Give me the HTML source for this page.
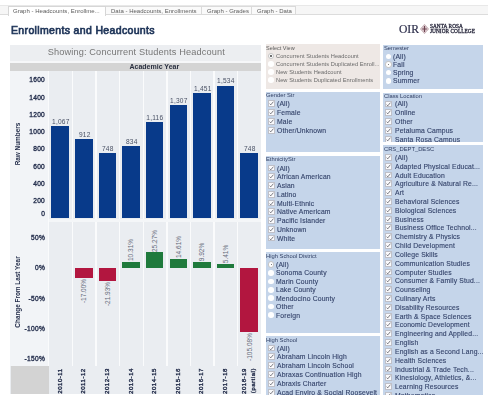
<!DOCTYPE html>
<html><head><meta charset="utf-8"><style>
html,body{margin:0;padding:0;background:#fff;width:500px;height:400px;overflow:hidden}
body div{position:absolute}
.t{font-family:"Liberation Sans", sans-serif;white-space:nowrap;line-height:1}
.t{will-change:transform}
.rot{transform:translate(-50%,-50%) rotate(-90deg);transform-origin:center center;will-change:auto}
</style></head><body>
<div style="left:0;top:5px;width:488px;height:9.6px;background:#f6f6f6;border-top:1px solid #e8e8e8;border-bottom:1px solid #dcdcdc;box-sizing:border-box"></div><div style="left:8px;top:5.6px;width:98px;height:10px;background:#ffffff;border:1px solid #d6d6d6;border-bottom:none;box-sizing:border-box"></div><div class="t" style="left:13px;top:8.0px;font-size:6px;color:#5c5c5c;font-weight:normal;letter-spacing:0.02px">Graph - Headcounts, Enrollme...</div><div style="left:106px;top:5.6px;width:96px;height:9px;background:#fafafa;border:1px solid #dadada;border-left:none;box-sizing:border-box"></div><div class="t" style="left:111px;top:8.0px;font-size:6px;color:#5c5c5c;font-weight:normal;letter-spacing:0.02px">Data - Headcounts, Enrollments</div><div style="left:202px;top:5.6px;width:50px;height:9px;background:#fafafa;border:1px solid #dadada;border-left:none;box-sizing:border-box"></div><div class="t" style="left:207px;top:8.0px;font-size:6px;color:#5c5c5c;font-weight:normal;letter-spacing:0.02px">Graph - Grades</div><div style="left:252px;top:5.6px;width:44px;height:9px;background:#fafafa;border:1px solid #dadada;border-left:none;box-sizing:border-box"></div><div class="t" style="left:257px;top:8.0px;font-size:6px;color:#5c5c5c;font-weight:normal;letter-spacing:0.02px">Graph - Data</div><div class="t" style="left:10.6px;top:25.2px;font-size:10.5px;color:#1f3559;font-weight:normal;letter-spacing:0.35px;-webkit-text-stroke:0.7px #1f3559">Enrollments and Headcounts</div><div class="t" style="left:398.5px;top:23.9px;font-family:'Liberation Serif',serif;font-size:11.6px;color:#2b2d4a;-webkit-text-stroke:0.2px #2b2d4a">OIR</div><svg style="position:absolute;left:419.5px;top:24px" width="9" height="10" viewBox="0 0 9 10">
<path d="M4.5 0.3 Q6.5 2.5 8.7 5 Q6.5 7.5 4.5 9.7 Q2.5 7.5 0.3 5 Q2.5 2.5 4.5 0.3 Z" fill="#d8c6cb" stroke="#b0949b" stroke-width="0.5"/>
<path d="M4.5 2 V8 M2.2 5 H6.8" stroke="#6e4450" stroke-width="1.1"/></svg><div class="t" style="left:429.6px;top:23.8px;font-family:'Liberation Serif',serif;font-size:5.3px;color:#2e2e42;line-height:4.7px;letter-spacing:0.05px;-webkit-text-stroke:0.3px #2e2e42">SANTA ROSA<br>JUNIOR COLLEGE</div><div style="left:10.2px;top:44.5px;width:250.60000000000002px;height:349.9px;background:#eaedf1;"></div><div style="left:10.2px;top:44.5px;width:250.60000000000002px;height:16.9px;background:#eceef1;"></div><div style="left:10.2px;top:61.4px;width:250.60000000000002px;height:1.5px;background:#f6f7f9;"></div><div style="left:10.2px;top:70.6px;width:38.099999999999994px;height:295.4px;background:#f2f4f7;"></div><div class="t" style="left:11.1px;top:48.4px;font-size:9.2px;color:#767676;font-weight:normal;width:250.60000000000002px;text-align:center;letter-spacing:0.15px">Showing: Concurrent Students Headcount</div><div style="left:10.2px;top:62.9px;width:250.60000000000002px;height:7.7px;background:#d4d4d4;"></div><div class="t" style="left:47.8px;top:63.1px;font-size:7px;color:#2a3040;font-weight:bold;width:212.60000000000002px;text-align:center">Academic Year</div><div style="left:48.099999999999994px;top:70.6px;width:1.4px;height:295.4px;background:#fafbfc;"></div><div style="left:71.72px;top:70.6px;width:1.4px;height:295.4px;background:#fafbfc;"></div><div style="left:95.33999999999999px;top:70.6px;width:1.4px;height:295.4px;background:#fafbfc;"></div><div style="left:118.96px;top:70.6px;width:1.4px;height:295.4px;background:#fafbfc;"></div><div style="left:142.58px;top:70.6px;width:1.4px;height:295.4px;background:#fafbfc;"></div><div style="left:166.20000000000002px;top:70.6px;width:1.4px;height:295.4px;background:#fafbfc;"></div><div style="left:189.82px;top:70.6px;width:1.4px;height:295.4px;background:#fafbfc;"></div><div style="left:213.44px;top:70.6px;width:1.4px;height:295.4px;background:#fafbfc;"></div><div style="left:237.06px;top:70.6px;width:1.4px;height:295.4px;background:#fafbfc;"></div><div style="left:51.4px;top:125.97125000000001px;width:17.5px;height:92.02874999999999px;background:#083a8a;"></div><div class="t" style="left:49.0px;top:118.77125000000001px;font-size:6.6px;color:#4a5266;font-weight:normal;width:23.62px;text-align:center;letter-spacing:0.2px">1,067</div><div style="left:75.02px;top:139.34px;width:17.5px;height:78.66px;background:#083a8a;"></div><div class="t" style="left:72.62px;top:132.14000000000001px;font-size:6.6px;color:#4a5266;font-weight:normal;width:23.62px;text-align:center;letter-spacing:0.2px">912</div><div style="left:98.63999999999999px;top:153.485px;width:17.5px;height:64.515px;background:#083a8a;"></div><div class="t" style="left:96.24px;top:146.28500000000003px;font-size:6.6px;color:#4a5266;font-weight:normal;width:23.62px;text-align:center;letter-spacing:0.2px">748</div><div style="left:122.25999999999999px;top:146.0675px;width:17.5px;height:71.93249999999999px;background:#083a8a;"></div><div class="t" style="left:119.86px;top:138.8675px;font-size:6.6px;color:#4a5266;font-weight:normal;width:23.62px;text-align:center;letter-spacing:0.2px">834</div><div style="left:145.88px;top:121.745px;width:17.5px;height:96.255px;background:#083a8a;"></div><div class="t" style="left:143.48px;top:114.545px;font-size:6.6px;color:#4a5266;font-weight:normal;width:23.62px;text-align:center;letter-spacing:0.2px">1,116</div><div style="left:169.5px;top:105.27125000000001px;width:17.5px;height:112.72874999999999px;background:#083a8a;"></div><div class="t" style="left:167.1px;top:98.07125px;font-size:6.6px;color:#4a5266;font-weight:normal;width:23.62px;text-align:center;letter-spacing:0.2px">1,307</div><div style="left:193.11999999999998px;top:92.85125000000001px;width:17.5px;height:125.14874999999999px;background:#083a8a;"></div><div class="t" style="left:190.71999999999997px;top:85.65125px;font-size:6.6px;color:#4a5266;font-weight:normal;width:23.62px;text-align:center;letter-spacing:0.2px">1,451</div><div style="left:216.73999999999998px;top:85.69250000000002px;width:17.5px;height:132.30749999999998px;background:#083a8a;"></div><div class="t" style="left:214.33999999999997px;top:78.49250000000002px;font-size:6.6px;color:#4a5266;font-weight:normal;width:23.62px;text-align:center;letter-spacing:0.2px">1,534</div><div style="left:240.35999999999999px;top:153.485px;width:17.5px;height:64.515px;background:#083a8a;"></div><div class="t" style="left:237.95999999999998px;top:146.28500000000003px;font-size:6.6px;color:#4a5266;font-weight:normal;width:23.62px;text-align:center;letter-spacing:0.2px">748</div><div style="left:48.8px;top:219px;width:212.0px;height:3.4px;background:#f4f6f8;"></div><div class="t" style="left:10.2px;top:77.3px;font-size:6.6px;color:#27314f;font-weight:normal;width:35.099999999999994px;text-align:right;letter-spacing:0.3px;-webkit-text-stroke:0.35px #27314f">1600</div><div class="t" style="left:10.2px;top:94.6px;font-size:6.6px;color:#27314f;font-weight:normal;width:35.099999999999994px;text-align:right;letter-spacing:0.3px;-webkit-text-stroke:0.35px #27314f">1400</div><div class="t" style="left:10.2px;top:111.8px;font-size:6.6px;color:#27314f;font-weight:normal;width:35.099999999999994px;text-align:right;letter-spacing:0.3px;-webkit-text-stroke:0.35px #27314f">1200</div><div class="t" style="left:10.2px;top:129.1px;font-size:6.6px;color:#27314f;font-weight:normal;width:35.099999999999994px;text-align:right;letter-spacing:0.3px;-webkit-text-stroke:0.35px #27314f">1000</div><div class="t" style="left:10.2px;top:146.29999999999998px;font-size:6.6px;color:#27314f;font-weight:normal;width:35.099999999999994px;text-align:right;letter-spacing:0.3px;-webkit-text-stroke:0.35px #27314f">800</div><div class="t" style="left:10.2px;top:163.6px;font-size:6.6px;color:#27314f;font-weight:normal;width:35.099999999999994px;text-align:right;letter-spacing:0.3px;-webkit-text-stroke:0.35px #27314f">600</div><div class="t" style="left:10.2px;top:180.79999999999998px;font-size:6.6px;color:#27314f;font-weight:normal;width:35.099999999999994px;text-align:right;letter-spacing:0.3px;-webkit-text-stroke:0.35px #27314f">400</div><div class="t" style="left:10.2px;top:198.1px;font-size:6.6px;color:#27314f;font-weight:normal;width:35.099999999999994px;text-align:right;letter-spacing:0.3px;-webkit-text-stroke:0.35px #27314f">200</div><div class="t" style="left:10.2px;top:211.29999999999998px;font-size:6.6px;color:#27314f;font-weight:normal;width:35.099999999999994px;text-align:right;letter-spacing:0.3px;-webkit-text-stroke:0.35px #27314f">0</div><div class="t rot" style="left:18.2px;top:143.5px;font-size:6.4px;color:#1e2846;font-weight:bold">Raw Numbers</div><div class="t rot" style="left:18.2px;top:292px;font-size:6.4px;color:#1e2846;font-weight:bold">Change From Last Year</div><div style="left:75.02px;top:267.8px;width:17.5px;height:10.37px;background:#b2163f;"></div><div class="t rot" style="left:84.23px;top:291.37px;font-size:6.5px;color:#666c7a">-17.00%</div><div style="left:98.63999999999999px;top:267.8px;width:17.5px;height:13.3773px;background:#b2163f;"></div><div class="t rot" style="left:107.85px;top:294.3773px;font-size:6.5px;color:#666c7a">-21.93%</div><div style="left:122.25999999999999px;top:261.5109px;width:17.5px;height:6.2891px;background:#1f7a3c;"></div><div class="t rot" style="left:131.47px;top:249.9109px;font-size:6.5px;color:#666c7a">10.31%</div><div style="left:145.88px;top:252.3853px;width:17.5px;height:15.4147px;background:#1f7a3c;"></div><div class="t rot" style="left:155.09px;top:240.7853px;font-size:6.5px;color:#666c7a">25.27%</div><div style="left:169.5px;top:258.8879px;width:17.5px;height:8.912099999999999px;background:#1f7a3c;"></div><div class="t rot" style="left:178.71px;top:247.2879px;font-size:6.5px;color:#666c7a">14.61%</div><div style="left:193.11999999999998px;top:261.7488px;width:17.5px;height:6.0512px;background:#1f7a3c;"></div><div class="t rot" style="left:202.32999999999998px;top:251.74880000000002px;font-size:6.5px;color:#666c7a">9.92%</div><div style="left:216.73999999999998px;top:264.4999px;width:17.5px;height:3.3001px;background:#1f7a3c;"></div><div class="t rot" style="left:225.95px;top:254.49990000000003px;font-size:6.5px;color:#666c7a">5.41%</div><div style="left:240.35999999999999px;top:267.8px;width:17.5px;height:64.0988px;background:#b2163f;"></div><div class="t rot" style="left:249.57px;top:346.6988px;font-size:6.5px;color:#666c7a">-105.08%</div><div class="t" style="left:10.2px;top:234.79999999999998px;font-size:6.6px;color:#27314f;font-weight:normal;width:35.099999999999994px;text-align:right;letter-spacing:0.3px;-webkit-text-stroke:0.35px #27314f">50%</div><div class="t" style="left:10.2px;top:265.1px;font-size:6.6px;color:#27314f;font-weight:normal;width:35.099999999999994px;text-align:right;letter-spacing:0.3px;-webkit-text-stroke:0.35px #27314f">0%</div><div class="t" style="left:10.2px;top:295.8px;font-size:6.6px;color:#27314f;font-weight:normal;width:35.099999999999994px;text-align:right;letter-spacing:0.3px;-webkit-text-stroke:0.35px #27314f">-50%</div><div class="t" style="left:10.2px;top:325.6px;font-size:6.6px;color:#27314f;font-weight:normal;width:35.099999999999994px;text-align:right;letter-spacing:0.3px;-webkit-text-stroke:0.35px #27314f">-100%</div><div class="t" style="left:10.2px;top:356.1px;font-size:6.6px;color:#27314f;font-weight:normal;width:35.099999999999994px;text-align:right;letter-spacing:0.3px;-webkit-text-stroke:0.35px #27314f">-150%</div><div style="left:11.2px;top:366.4px;width:37.599999999999994px;height:27.600000000000023px;background:#d3d3d3;"></div><div class="t rot" style="left:59.71px;top:381.3px;font-size:6.1px;color:#1e2846;letter-spacing:0.5px;-webkit-text-stroke:0.35px #1e2846">2010-11</div><div class="t rot" style="left:83.33px;top:381.3px;font-size:6.1px;color:#1e2846;letter-spacing:0.5px;-webkit-text-stroke:0.35px #1e2846">2011-12</div><div class="t rot" style="left:106.94999999999999px;top:381.3px;font-size:6.1px;color:#1e2846;letter-spacing:0.5px;-webkit-text-stroke:0.35px #1e2846">2012-13</div><div class="t rot" style="left:130.57px;top:381.3px;font-size:6.1px;color:#1e2846;letter-spacing:0.5px;-webkit-text-stroke:0.35px #1e2846">2013-14</div><div class="t rot" style="left:154.19px;top:381.3px;font-size:6.1px;color:#1e2846;letter-spacing:0.5px;-webkit-text-stroke:0.35px #1e2846">2014-15</div><div class="t rot" style="left:177.81px;top:381.3px;font-size:6.1px;color:#1e2846;letter-spacing:0.5px;-webkit-text-stroke:0.35px #1e2846">2015-16</div><div class="t rot" style="left:201.42999999999998px;top:381.3px;font-size:6.1px;color:#1e2846;letter-spacing:0.5px;-webkit-text-stroke:0.35px #1e2846">2016-17</div><div class="t rot" style="left:225.04999999999998px;top:381.3px;font-size:6.1px;color:#1e2846;letter-spacing:0.5px;-webkit-text-stroke:0.35px #1e2846">2017-18</div><div class="t rot" style="left:248.87px;top:381.3px;font-size:6.1px;color:#1e2846;line-height:8.8px;text-align:right;letter-spacing:0.5px;-webkit-text-stroke:0.35px #1e2846">2018-19<br>(partial)</div><div style="left:265.5px;top:44.4px;width:114.30000000000001px;height:44.800000000000004px;background:#eee8e5;overflow:hidden"><div class="t" style="left:0.8px;top:1.6000000000000014px;font-size:5.5px;color:#5a5a5a;font-weight:normal;">Select View</div><div style="left:2.3px;top:8.299999999999999px;width:6.2px;height:6.2px;border-radius:50%;background:#fff;border:0.8px solid #c4c4c4;box-sizing:border-box"><div style="left:1.6px;top:1.6px;width:1.4px;height:1.4px;border-radius:50%;background:#555"></div></div><div class="t" style="left:10.4px;top:9.600000000000001px;font-size:5.7px;color:#6a6a6a;font-weight:normal;letter-spacing:0.05px">Concurrent Students Headcount</div><div style="left:2.5999999999999996px;top:16.63px;width:5.6px;height:5.6px;border-radius:50%;background:#ffffff;box-sizing:border-box"></div><div class="t" style="left:10.4px;top:17.6px;font-size:5.7px;color:#6a6a6a;font-weight:normal;letter-spacing:0.05px">Concurrent Students Duplicated Enroll...</div><div style="left:2.5999999999999996px;top:24.659999999999997px;width:5.6px;height:5.6px;border-radius:50%;background:#ffffff;box-sizing:border-box"></div><div class="t" style="left:10.4px;top:25.6px;font-size:5.7px;color:#6a6a6a;font-weight:normal;letter-spacing:0.05px">New Students Headcount</div><div style="left:2.5999999999999996px;top:32.69px;width:5.6px;height:5.6px;border-radius:50%;background:#ffffff;box-sizing:border-box"></div><div class="t" style="left:10.4px;top:33.6px;font-size:5.7px;color:#6a6a6a;font-weight:normal;letter-spacing:0.05px">New Students Duplicated Enrollments</div></div><div style="left:383.3px;top:44.5px;width:99.59999999999997px;height:44.599999999999994px;background:#c5d5ea;overflow:hidden"><div class="t" style="left:0.8px;top:1.5px;font-size:5.8px;color:#2e3d62;font-weight:normal;">Semester</div><div style="left:2.5px;top:9.099999999999998px;width:5.6px;height:5.6px;border-radius:50%;background:#ffffff;box-sizing:border-box"></div><div class="t" style="left:9.8px;top:9.5px;font-size:6.8px;color:#34436a;font-weight:normal;letter-spacing:0.15px;-webkit-text-stroke:0.12px #34436a">(All)</div><div style="left:2.2px;top:16.919999999999995px;width:6.2px;height:6.2px;border-radius:50%;background:#fff;border:0.8px solid #c4c4c4;box-sizing:border-box"><div style="left:1.6px;top:1.6px;width:1.4px;height:1.4px;border-radius:50%;background:#555"></div></div><div class="t" style="left:9.8px;top:17.5px;font-size:6.8px;color:#34436a;font-weight:normal;letter-spacing:0.15px;-webkit-text-stroke:0.12px #34436a">Fall</div><div style="left:2.5px;top:25.339999999999996px;width:5.6px;height:5.6px;border-radius:50%;background:#ffffff;box-sizing:border-box"></div><div class="t" style="left:9.8px;top:25.5px;font-size:6.8px;color:#34436a;font-weight:normal;letter-spacing:0.15px;-webkit-text-stroke:0.12px #34436a">Spring</div><div style="left:2.5px;top:33.46px;width:5.6px;height:5.6px;border-radius:50%;background:#ffffff;box-sizing:border-box"></div><div class="t" style="left:9.8px;top:33.5px;font-size:6.8px;color:#34436a;font-weight:normal;letter-spacing:0.15px;-webkit-text-stroke:0.12px #34436a">Summer</div></div><div style="left:265.5px;top:92.2px;width:114.30000000000001px;height:60.10000000000001px;background:#c5d5ea;overflow:hidden"><div class="t" style="left:0.8px;top:0.7999999999999972px;font-size:5.8px;color:#2e3d62;font-weight:normal;">Gender Str</div><div style="left:2.2px;top:8.299999999999997px;width:7px;height:6.9px;background:#fafafc;border:0.8px solid #bfc0c8;box-sizing:border-box"></div><svg style="position:absolute;left:2.2px;top:8.299999999999997px" width="7" height="7" viewBox="0 0 7 7"><path d="M1.6 3.7 L2.8 4.8 L5.4 1.7" fill="none" stroke="#45454d" stroke-width="0.7"/></svg><div class="t" style="left:11.5px;top:8.799999999999997px;font-size:6.8px;color:#34436a;font-weight:normal;letter-spacing:0.15px;-webkit-text-stroke:0.12px #34436a">(All)</div><div style="left:2.2px;top:17.08px;width:7px;height:6.9px;background:#fafafc;border:0.8px solid #bfc0c8;box-sizing:border-box"></div><svg style="position:absolute;left:2.2px;top:17.08px" width="7" height="7" viewBox="0 0 7 7"><path d="M1.6 3.7 L2.8 4.8 L5.4 1.7" fill="none" stroke="#45454d" stroke-width="0.7"/></svg><div class="t" style="left:11.5px;top:17.799999999999997px;font-size:6.8px;color:#34436a;font-weight:normal;letter-spacing:0.15px;-webkit-text-stroke:0.12px #34436a">Female</div><div style="left:2.2px;top:25.859999999999996px;width:7px;height:6.9px;background:#fafafc;border:0.8px solid #bfc0c8;box-sizing:border-box"></div><svg style="position:absolute;left:2.2px;top:25.859999999999996px" width="7" height="7" viewBox="0 0 7 7"><path d="M1.6 3.7 L2.8 4.8 L5.4 1.7" fill="none" stroke="#45454d" stroke-width="0.7"/></svg><div class="t" style="left:11.5px;top:26.799999999999997px;font-size:6.8px;color:#34436a;font-weight:normal;letter-spacing:0.15px;-webkit-text-stroke:0.12px #34436a">Male</div><div style="left:2.2px;top:34.63999999999999px;width:7px;height:6.9px;background:#fafafc;border:0.8px solid #bfc0c8;box-sizing:border-box"></div><svg style="position:absolute;left:2.2px;top:34.63999999999999px" width="7" height="7" viewBox="0 0 7 7"><path d="M1.6 3.7 L2.8 4.8 L5.4 1.7" fill="none" stroke="#45454d" stroke-width="0.7"/></svg><div class="t" style="left:11.5px;top:35.8px;font-size:6.8px;color:#34436a;font-weight:normal;letter-spacing:0.15px;-webkit-text-stroke:0.12px #34436a">Other/Unknown</div></div><div style="left:265.5px;top:155.6px;width:114.30000000000001px;height:93.80000000000001px;background:#c5d5ea;overflow:hidden"><div class="t" style="left:0.8px;top:1.4000000000000057px;font-size:5.8px;color:#2e3d62;font-weight:normal;">EthnicityStr</div><div style="left:2.2px;top:9.0px;width:7px;height:6.9px;background:#fafafc;border:0.8px solid #bfc0c8;box-sizing:border-box"></div><svg style="position:absolute;left:2.2px;top:9.0px" width="7" height="7" viewBox="0 0 7 7"><path d="M1.6 3.7 L2.8 4.8 L5.4 1.7" fill="none" stroke="#45454d" stroke-width="0.7"/></svg><div class="t" style="left:11.3px;top:10.400000000000006px;font-size:6.8px;color:#34436a;font-weight:normal;letter-spacing:0.15px;-webkit-text-stroke:0.12px #34436a">(All)</div><div style="left:2.2px;top:17.75px;width:7px;height:6.9px;background:#fafafc;border:0.8px solid #bfc0c8;box-sizing:border-box"></div><svg style="position:absolute;left:2.2px;top:17.75px" width="7" height="7" viewBox="0 0 7 7"><path d="M1.6 3.7 L2.8 4.8 L5.4 1.7" fill="none" stroke="#45454d" stroke-width="0.7"/></svg><div class="t" style="left:11.3px;top:18.400000000000006px;font-size:6.8px;color:#34436a;font-weight:normal;letter-spacing:0.15px;-webkit-text-stroke:0.12px #34436a">African American</div><div style="left:2.2px;top:26.5px;width:7px;height:6.9px;background:#fafafc;border:0.8px solid #bfc0c8;box-sizing:border-box"></div><svg style="position:absolute;left:2.2px;top:26.5px" width="7" height="7" viewBox="0 0 7 7"><path d="M1.6 3.7 L2.8 4.8 L5.4 1.7" fill="none" stroke="#45454d" stroke-width="0.7"/></svg><div class="t" style="left:11.3px;top:27.400000000000006px;font-size:6.8px;color:#34436a;font-weight:normal;letter-spacing:0.15px;-webkit-text-stroke:0.12px #34436a">Asian</div><div style="left:2.2px;top:35.25px;width:7px;height:6.9px;background:#fafafc;border:0.8px solid #bfc0c8;box-sizing:border-box"></div><svg style="position:absolute;left:2.2px;top:35.25px" width="7" height="7" viewBox="0 0 7 7"><path d="M1.6 3.7 L2.8 4.8 L5.4 1.7" fill="none" stroke="#45454d" stroke-width="0.7"/></svg><div class="t" style="left:11.3px;top:36.400000000000006px;font-size:6.8px;color:#34436a;font-weight:normal;letter-spacing:0.15px;-webkit-text-stroke:0.12px #34436a">Latino</div><div style="left:2.2px;top:44.0px;width:7px;height:6.9px;background:#fafafc;border:0.8px solid #bfc0c8;box-sizing:border-box"></div><svg style="position:absolute;left:2.2px;top:44.0px" width="7" height="7" viewBox="0 0 7 7"><path d="M1.6 3.7 L2.8 4.8 L5.4 1.7" fill="none" stroke="#45454d" stroke-width="0.7"/></svg><div class="t" style="left:11.3px;top:45.400000000000006px;font-size:6.8px;color:#34436a;font-weight:normal;letter-spacing:0.15px;-webkit-text-stroke:0.12px #34436a">Multi-Ethnic</div><div style="left:2.2px;top:52.75px;width:7px;height:6.9px;background:#fafafc;border:0.8px solid #bfc0c8;box-sizing:border-box"></div><svg style="position:absolute;left:2.2px;top:52.75px" width="7" height="7" viewBox="0 0 7 7"><path d="M1.6 3.7 L2.8 4.8 L5.4 1.7" fill="none" stroke="#45454d" stroke-width="0.7"/></svg><div class="t" style="left:11.3px;top:53.400000000000006px;font-size:6.8px;color:#34436a;font-weight:normal;letter-spacing:0.15px;-webkit-text-stroke:0.12px #34436a">Native Americam</div><div style="left:2.2px;top:61.5px;width:7px;height:6.9px;background:#fafafc;border:0.8px solid #bfc0c8;box-sizing:border-box"></div><svg style="position:absolute;left:2.2px;top:61.5px" width="7" height="7" viewBox="0 0 7 7"><path d="M1.6 3.7 L2.8 4.8 L5.4 1.7" fill="none" stroke="#45454d" stroke-width="0.7"/></svg><div class="t" style="left:11.3px;top:62.400000000000006px;font-size:6.8px;color:#34436a;font-weight:normal;letter-spacing:0.15px;-webkit-text-stroke:0.12px #34436a">Pacific Islander</div><div style="left:2.2px;top:70.25px;width:7px;height:6.9px;background:#fafafc;border:0.8px solid #bfc0c8;box-sizing:border-box"></div><svg style="position:absolute;left:2.2px;top:70.25px" width="7" height="7" viewBox="0 0 7 7"><path d="M1.6 3.7 L2.8 4.8 L5.4 1.7" fill="none" stroke="#45454d" stroke-width="0.7"/></svg><div class="t" style="left:11.3px;top:71.4px;font-size:6.8px;color:#34436a;font-weight:normal;letter-spacing:0.15px;-webkit-text-stroke:0.12px #34436a">Unknown</div><div style="left:2.2px;top:79.0px;width:7px;height:6.9px;background:#fafafc;border:0.8px solid #bfc0c8;box-sizing:border-box"></div><svg style="position:absolute;left:2.2px;top:79.0px" width="7" height="7" viewBox="0 0 7 7"><path d="M1.6 3.7 L2.8 4.8 L5.4 1.7" fill="none" stroke="#45454d" stroke-width="0.7"/></svg><div class="t" style="left:11.3px;top:80.4px;font-size:6.8px;color:#34436a;font-weight:normal;letter-spacing:0.15px;-webkit-text-stroke:0.12px #34436a">White</div></div><div style="left:265.5px;top:251.8px;width:114.30000000000001px;height:81.19999999999999px;background:#c5d5ea;overflow:hidden"><div class="t" style="left:0.8px;top:2.1999999999999886px;font-size:5.8px;color:#2e3d62;font-weight:normal;">High School District</div><div style="left:2.5px;top:9.599999999999989px;width:6.2px;height:6.2px;border-radius:50%;background:#fff;border:0.8px solid #c4c4c4;box-sizing:border-box"><div style="left:1.6px;top:1.6px;width:1.4px;height:1.4px;border-radius:50%;background:#555"></div></div><div class="t" style="left:10.1px;top:10.199999999999989px;font-size:6.8px;color:#34436a;font-weight:normal;letter-spacing:0.15px;-webkit-text-stroke:0.12px #34436a">(All)</div><div style="left:2.8px;top:18.31999999999999px;width:5.6px;height:5.6px;border-radius:50%;background:#ffffff;box-sizing:border-box"></div><div class="t" style="left:10.1px;top:18.19999999999999px;font-size:6.8px;color:#34436a;font-weight:normal;letter-spacing:0.15px;-webkit-text-stroke:0.12px #34436a">Sonoma County</div><div style="left:2.8px;top:26.739999999999988px;width:5.6px;height:5.6px;border-radius:50%;background:#ffffff;box-sizing:border-box"></div><div class="t" style="left:10.1px;top:27.19999999999999px;font-size:6.8px;color:#34436a;font-weight:normal;letter-spacing:0.15px;-webkit-text-stroke:0.12px #34436a">Marin County</div><div style="left:2.8px;top:35.15999999999999px;width:5.6px;height:5.6px;border-radius:50%;background:#ffffff;box-sizing:border-box"></div><div class="t" style="left:10.1px;top:35.19999999999999px;font-size:6.8px;color:#34436a;font-weight:normal;letter-spacing:0.15px;-webkit-text-stroke:0.12px #34436a">Lake County</div><div style="left:2.8px;top:43.57999999999999px;width:5.6px;height:5.6px;border-radius:50%;background:#ffffff;box-sizing:border-box"></div><div class="t" style="left:10.1px;top:44.19999999999999px;font-size:6.8px;color:#34436a;font-weight:normal;letter-spacing:0.15px;-webkit-text-stroke:0.12px #34436a">Mendocino County</div><div style="left:2.8px;top:51.99999999999999px;width:5.6px;height:5.6px;border-radius:50%;background:#ffffff;box-sizing:border-box"></div><div class="t" style="left:10.1px;top:52.19999999999999px;font-size:6.8px;color:#34436a;font-weight:normal;letter-spacing:0.15px;-webkit-text-stroke:0.12px #34436a">Other</div><div style="left:2.8px;top:60.41999999999999px;width:5.6px;height:5.6px;border-radius:50%;background:#ffffff;box-sizing:border-box"></div><div class="t" style="left:10.1px;top:61.19999999999999px;font-size:6.8px;color:#34436a;font-weight:normal;letter-spacing:0.15px;-webkit-text-stroke:0.12px #34436a">Foreign</div></div><div style="left:265.5px;top:336.4px;width:114.30000000000001px;height:58.400000000000034px;background:#c5d5ea;overflow:hidden"><div class="t" style="left:0.8px;top:1.6000000000000227px;font-size:5.8px;color:#2e3d62;font-weight:normal;">High School</div><div style="left:2.2px;top:8.200000000000045px;width:7px;height:6.9px;background:#fafafc;border:0.8px solid #bfc0c8;box-sizing:border-box"></div><svg style="position:absolute;left:2.2px;top:8.200000000000045px" width="7" height="7" viewBox="0 0 7 7"><path d="M1.6 3.7 L2.8 4.8 L5.4 1.7" fill="none" stroke="#45454d" stroke-width="0.7"/></svg><div class="t" style="left:11.5px;top:9.600000000000023px;font-size:6.8px;color:#34436a;font-weight:normal;letter-spacing:0.15px;-webkit-text-stroke:0.12px #34436a">(All)</div><div style="left:2.2px;top:17.050000000000047px;width:7px;height:6.9px;background:#fafafc;border:0.8px solid #bfc0c8;box-sizing:border-box"></div><svg style="position:absolute;left:2.2px;top:17.050000000000047px" width="7" height="7" viewBox="0 0 7 7"><path d="M1.6 3.7 L2.8 4.8 L5.4 1.7" fill="none" stroke="#45454d" stroke-width="0.7"/></svg><div class="t" style="left:11.5px;top:17.600000000000023px;font-size:6.8px;color:#34436a;font-weight:normal;letter-spacing:0.15px;-webkit-text-stroke:0.12px #34436a">Abraham Lincoln High</div><div style="left:2.2px;top:25.900000000000045px;width:7px;height:6.9px;background:#fafafc;border:0.8px solid #bfc0c8;box-sizing:border-box"></div><svg style="position:absolute;left:2.2px;top:25.900000000000045px" width="7" height="7" viewBox="0 0 7 7"><path d="M1.6 3.7 L2.8 4.8 L5.4 1.7" fill="none" stroke="#45454d" stroke-width="0.7"/></svg><div class="t" style="left:11.5px;top:26.600000000000023px;font-size:6.8px;color:#34436a;font-weight:normal;letter-spacing:0.15px;-webkit-text-stroke:0.12px #34436a">Abraham Lincoln School</div><div style="left:2.2px;top:34.75000000000004px;width:7px;height:6.9px;background:#fafafc;border:0.8px solid #bfc0c8;box-sizing:border-box"></div><svg style="position:absolute;left:2.2px;top:34.75000000000004px" width="7" height="7" viewBox="0 0 7 7"><path d="M1.6 3.7 L2.8 4.8 L5.4 1.7" fill="none" stroke="#45454d" stroke-width="0.7"/></svg><div class="t" style="left:11.5px;top:35.60000000000002px;font-size:6.8px;color:#34436a;font-weight:normal;letter-spacing:0.15px;-webkit-text-stroke:0.12px #34436a">Abraxas Continuation High</div><div style="left:2.2px;top:43.600000000000044px;width:7px;height:6.9px;background:#fafafc;border:0.8px solid #bfc0c8;box-sizing:border-box"></div><svg style="position:absolute;left:2.2px;top:43.600000000000044px" width="7" height="7" viewBox="0 0 7 7"><path d="M1.6 3.7 L2.8 4.8 L5.4 1.7" fill="none" stroke="#45454d" stroke-width="0.7"/></svg><div class="t" style="left:11.5px;top:44.60000000000002px;font-size:6.8px;color:#34436a;font-weight:normal;letter-spacing:0.15px;-webkit-text-stroke:0.12px #34436a">Abraxis Charter</div><div style="left:2.2px;top:52.450000000000045px;width:7px;height:6.9px;background:#fafafc;border:0.8px solid #bfc0c8;box-sizing:border-box"></div><svg style="position:absolute;left:2.2px;top:52.450000000000045px" width="7" height="7" viewBox="0 0 7 7"><path d="M1.6 3.7 L2.8 4.8 L5.4 1.7" fill="none" stroke="#45454d" stroke-width="0.7"/></svg><div class="t" style="left:11.5px;top:53.60000000000002px;font-size:6.8px;color:#34436a;font-weight:normal;letter-spacing:0.15px;-webkit-text-stroke:0.12px #34436a">Acad Enviro &amp; Social Roosevelt</div></div><div style="left:383.3px;top:92.5px;width:99.59999999999997px;height:49.599999999999994px;background:#c5d5ea;overflow:hidden"><div class="t" style="left:0.8px;top:1.5px;font-size:5.8px;color:#2e3d62;font-weight:normal;">Class Location</div><div style="left:2.1px;top:8.0px;width:7px;height:6.9px;background:#fafafc;border:0.8px solid #bfc0c8;box-sizing:border-box"></div><svg style="position:absolute;left:2.1px;top:8.0px" width="7" height="7" viewBox="0 0 7 7"><path d="M1.6 3.7 L2.8 4.8 L5.4 1.7" fill="none" stroke="#45454d" stroke-width="0.7"/></svg><div class="t" style="left:11.3px;top:8.5px;font-size:6.8px;color:#34436a;font-weight:normal;letter-spacing:0.15px;-webkit-text-stroke:0.12px #34436a">(All)</div><div style="left:2.1px;top:16.8px;width:7px;height:6.9px;background:#fafafc;border:0.8px solid #bfc0c8;box-sizing:border-box"></div><svg style="position:absolute;left:2.1px;top:16.8px" width="7" height="7" viewBox="0 0 7 7"><path d="M1.6 3.7 L2.8 4.8 L5.4 1.7" fill="none" stroke="#45454d" stroke-width="0.7"/></svg><div class="t" style="left:11.3px;top:17.5px;font-size:6.8px;color:#34436a;font-weight:normal;letter-spacing:0.15px;-webkit-text-stroke:0.12px #34436a">Online</div><div style="left:2.1px;top:25.6px;width:7px;height:6.9px;background:#fafafc;border:0.8px solid #bfc0c8;box-sizing:border-box"></div><svg style="position:absolute;left:2.1px;top:25.6px" width="7" height="7" viewBox="0 0 7 7"><path d="M1.6 3.7 L2.8 4.8 L5.4 1.7" fill="none" stroke="#45454d" stroke-width="0.7"/></svg><div class="t" style="left:11.3px;top:26.5px;font-size:6.8px;color:#34436a;font-weight:normal;letter-spacing:0.15px;-webkit-text-stroke:0.12px #34436a">Other</div><div style="left:2.1px;top:34.400000000000006px;width:7px;height:6.9px;background:#fafafc;border:0.8px solid #bfc0c8;box-sizing:border-box"></div><svg style="position:absolute;left:2.1px;top:34.400000000000006px" width="7" height="7" viewBox="0 0 7 7"><path d="M1.6 3.7 L2.8 4.8 L5.4 1.7" fill="none" stroke="#45454d" stroke-width="0.7"/></svg><div class="t" style="left:11.3px;top:35.5px;font-size:6.8px;color:#34436a;font-weight:normal;letter-spacing:0.15px;-webkit-text-stroke:0.12px #34436a">Petaluma Campus</div><div style="left:2.1px;top:43.2px;width:7px;height:6.9px;background:#fafafc;border:0.8px solid #bfc0c8;box-sizing:border-box"></div><svg style="position:absolute;left:2.1px;top:43.2px" width="7" height="7" viewBox="0 0 7 7"><path d="M1.6 3.7 L2.8 4.8 L5.4 1.7" fill="none" stroke="#45454d" stroke-width="0.7"/></svg><div class="t" style="left:11.3px;top:44.5px;font-size:6.8px;color:#34436a;font-weight:normal;letter-spacing:0.15px;-webkit-text-stroke:0.12px #34436a">Santa Rosa Campus</div></div><div style="left:383.3px;top:145.0px;width:99.59999999999997px;height:249.8px;background:#c5d5ea;overflow:hidden"><div class="t" style="left:0.8px;top:2.0px;font-size:5.8px;color:#2e3d62;font-weight:normal;">CRS_DEPT_DESC</div><div style="left:2.1px;top:8.900000000000006px;width:7px;height:6.9px;background:#fafafc;border:0.8px solid #bfc0c8;box-sizing:border-box"></div><svg style="position:absolute;left:2.1px;top:8.900000000000006px" width="7" height="7" viewBox="0 0 7 7"><path d="M1.6 3.7 L2.8 4.8 L5.4 1.7" fill="none" stroke="#45454d" stroke-width="0.7"/></svg><div class="t" style="left:11.3px;top:10.0px;font-size:6.8px;color:#34436a;font-weight:normal;letter-spacing:0.15px;-webkit-text-stroke:0.12px #34436a">(All)</div><div style="left:2.1px;top:17.720000000000006px;width:7px;height:6.9px;background:#fafafc;border:0.8px solid #bfc0c8;box-sizing:border-box"></div><svg style="position:absolute;left:2.1px;top:17.720000000000006px" width="7" height="7" viewBox="0 0 7 7"><path d="M1.6 3.7 L2.8 4.8 L5.4 1.7" fill="none" stroke="#45454d" stroke-width="0.7"/></svg><div class="t" style="left:11.3px;top:19.0px;font-size:6.8px;color:#34436a;font-weight:normal;letter-spacing:0.15px;-webkit-text-stroke:0.12px #34436a">Adapted Physical Educat...</div><div style="left:2.1px;top:26.540000000000006px;width:7px;height:6.9px;background:#fafafc;border:0.8px solid #bfc0c8;box-sizing:border-box"></div><svg style="position:absolute;left:2.1px;top:26.540000000000006px" width="7" height="7" viewBox="0 0 7 7"><path d="M1.6 3.7 L2.8 4.8 L5.4 1.7" fill="none" stroke="#45454d" stroke-width="0.7"/></svg><div class="t" style="left:11.3px;top:28.0px;font-size:6.8px;color:#34436a;font-weight:normal;letter-spacing:0.15px;-webkit-text-stroke:0.12px #34436a">Adult Education</div><div style="left:2.1px;top:35.36000000000001px;width:7px;height:6.9px;background:#fafafc;border:0.8px solid #bfc0c8;box-sizing:border-box"></div><svg style="position:absolute;left:2.1px;top:35.36000000000001px" width="7" height="7" viewBox="0 0 7 7"><path d="M1.6 3.7 L2.8 4.8 L5.4 1.7" fill="none" stroke="#45454d" stroke-width="0.7"/></svg><div class="t" style="left:11.3px;top:36.0px;font-size:6.8px;color:#34436a;font-weight:normal;letter-spacing:0.15px;-webkit-text-stroke:0.12px #34436a">Agriculture &amp; Natural Re...</div><div style="left:2.1px;top:44.18000000000001px;width:7px;height:6.9px;background:#fafafc;border:0.8px solid #bfc0c8;box-sizing:border-box"></div><svg style="position:absolute;left:2.1px;top:44.18000000000001px" width="7" height="7" viewBox="0 0 7 7"><path d="M1.6 3.7 L2.8 4.8 L5.4 1.7" fill="none" stroke="#45454d" stroke-width="0.7"/></svg><div class="t" style="left:11.3px;top:45.0px;font-size:6.8px;color:#34436a;font-weight:normal;letter-spacing:0.15px;-webkit-text-stroke:0.12px #34436a">Art</div><div style="left:2.1px;top:53.00000000000001px;width:7px;height:6.9px;background:#fafafc;border:0.8px solid #bfc0c8;box-sizing:border-box"></div><svg style="position:absolute;left:2.1px;top:53.00000000000001px" width="7" height="7" viewBox="0 0 7 7"><path d="M1.6 3.7 L2.8 4.8 L5.4 1.7" fill="none" stroke="#45454d" stroke-width="0.7"/></svg><div class="t" style="left:11.3px;top:54.0px;font-size:6.8px;color:#34436a;font-weight:normal;letter-spacing:0.15px;-webkit-text-stroke:0.12px #34436a">Behavioral Sciences</div><div style="left:2.1px;top:61.82000000000001px;width:7px;height:6.9px;background:#fafafc;border:0.8px solid #bfc0c8;box-sizing:border-box"></div><svg style="position:absolute;left:2.1px;top:61.82000000000001px" width="7" height="7" viewBox="0 0 7 7"><path d="M1.6 3.7 L2.8 4.8 L5.4 1.7" fill="none" stroke="#45454d" stroke-width="0.7"/></svg><div class="t" style="left:11.3px;top:63.0px;font-size:6.8px;color:#34436a;font-weight:normal;letter-spacing:0.15px;-webkit-text-stroke:0.12px #34436a">Biological Sciences</div><div style="left:2.1px;top:70.64000000000001px;width:7px;height:6.9px;background:#fafafc;border:0.8px solid #bfc0c8;box-sizing:border-box"></div><svg style="position:absolute;left:2.1px;top:70.64000000000001px" width="7" height="7" viewBox="0 0 7 7"><path d="M1.6 3.7 L2.8 4.8 L5.4 1.7" fill="none" stroke="#45454d" stroke-width="0.7"/></svg><div class="t" style="left:11.3px;top:72.0px;font-size:6.8px;color:#34436a;font-weight:normal;letter-spacing:0.15px;-webkit-text-stroke:0.12px #34436a">Business</div><div style="left:2.1px;top:79.46000000000001px;width:7px;height:6.9px;background:#fafafc;border:0.8px solid #bfc0c8;box-sizing:border-box"></div><svg style="position:absolute;left:2.1px;top:79.46000000000001px" width="7" height="7" viewBox="0 0 7 7"><path d="M1.6 3.7 L2.8 4.8 L5.4 1.7" fill="none" stroke="#45454d" stroke-width="0.7"/></svg><div class="t" style="left:11.3px;top:80.0px;font-size:6.8px;color:#34436a;font-weight:normal;letter-spacing:0.15px;-webkit-text-stroke:0.12px #34436a">Business Office Technol...</div><div style="left:2.1px;top:88.28px;width:7px;height:6.9px;background:#fafafc;border:0.8px solid #bfc0c8;box-sizing:border-box"></div><svg style="position:absolute;left:2.1px;top:88.28px" width="7" height="7" viewBox="0 0 7 7"><path d="M1.6 3.7 L2.8 4.8 L5.4 1.7" fill="none" stroke="#45454d" stroke-width="0.7"/></svg><div class="t" style="left:11.3px;top:89.0px;font-size:6.8px;color:#34436a;font-weight:normal;letter-spacing:0.15px;-webkit-text-stroke:0.12px #34436a">Chemistry &amp; Physics</div><div style="left:2.1px;top:97.10000000000001px;width:7px;height:6.9px;background:#fafafc;border:0.8px solid #bfc0c8;box-sizing:border-box"></div><svg style="position:absolute;left:2.1px;top:97.10000000000001px" width="7" height="7" viewBox="0 0 7 7"><path d="M1.6 3.7 L2.8 4.8 L5.4 1.7" fill="none" stroke="#45454d" stroke-width="0.7"/></svg><div class="t" style="left:11.3px;top:98.0px;font-size:6.8px;color:#34436a;font-weight:normal;letter-spacing:0.15px;-webkit-text-stroke:0.12px #34436a">Child Development</div><div style="left:2.1px;top:105.92000000000002px;width:7px;height:6.9px;background:#fafafc;border:0.8px solid #bfc0c8;box-sizing:border-box"></div><svg style="position:absolute;left:2.1px;top:105.92000000000002px" width="7" height="7" viewBox="0 0 7 7"><path d="M1.6 3.7 L2.8 4.8 L5.4 1.7" fill="none" stroke="#45454d" stroke-width="0.7"/></svg><div class="t" style="left:11.3px;top:107.0px;font-size:6.8px;color:#34436a;font-weight:normal;letter-spacing:0.15px;-webkit-text-stroke:0.12px #34436a">College Skills</div><div style="left:2.1px;top:114.74000000000001px;width:7px;height:6.9px;background:#fafafc;border:0.8px solid #bfc0c8;box-sizing:border-box"></div><svg style="position:absolute;left:2.1px;top:114.74000000000001px" width="7" height="7" viewBox="0 0 7 7"><path d="M1.6 3.7 L2.8 4.8 L5.4 1.7" fill="none" stroke="#45454d" stroke-width="0.7"/></svg><div class="t" style="left:11.3px;top:116.0px;font-size:6.8px;color:#34436a;font-weight:normal;letter-spacing:0.15px;-webkit-text-stroke:0.12px #34436a">Communication Studies</div><div style="left:2.1px;top:123.56px;width:7px;height:6.9px;background:#fafafc;border:0.8px solid #bfc0c8;box-sizing:border-box"></div><svg style="position:absolute;left:2.1px;top:123.56px" width="7" height="7" viewBox="0 0 7 7"><path d="M1.6 3.7 L2.8 4.8 L5.4 1.7" fill="none" stroke="#45454d" stroke-width="0.7"/></svg><div class="t" style="left:11.3px;top:125.0px;font-size:6.8px;color:#34436a;font-weight:normal;letter-spacing:0.15px;-webkit-text-stroke:0.12px #34436a">Computer Studies</div><div style="left:2.1px;top:132.38px;width:7px;height:6.9px;background:#fafafc;border:0.8px solid #bfc0c8;box-sizing:border-box"></div><svg style="position:absolute;left:2.1px;top:132.38px" width="7" height="7" viewBox="0 0 7 7"><path d="M1.6 3.7 L2.8 4.8 L5.4 1.7" fill="none" stroke="#45454d" stroke-width="0.7"/></svg><div class="t" style="left:11.3px;top:133.0px;font-size:6.8px;color:#34436a;font-weight:normal;letter-spacing:0.15px;-webkit-text-stroke:0.12px #34436a">Consumer &amp; Family Stud...</div><div style="left:2.1px;top:141.20000000000002px;width:7px;height:6.9px;background:#fafafc;border:0.8px solid #bfc0c8;box-sizing:border-box"></div><svg style="position:absolute;left:2.1px;top:141.20000000000002px" width="7" height="7" viewBox="0 0 7 7"><path d="M1.6 3.7 L2.8 4.8 L5.4 1.7" fill="none" stroke="#45454d" stroke-width="0.7"/></svg><div class="t" style="left:11.3px;top:142.0px;font-size:6.8px;color:#34436a;font-weight:normal;letter-spacing:0.15px;-webkit-text-stroke:0.12px #34436a">Counseling</div><div style="left:2.1px;top:150.02px;width:7px;height:6.9px;background:#fafafc;border:0.8px solid #bfc0c8;box-sizing:border-box"></div><svg style="position:absolute;left:2.1px;top:150.02px" width="7" height="7" viewBox="0 0 7 7"><path d="M1.6 3.7 L2.8 4.8 L5.4 1.7" fill="none" stroke="#45454d" stroke-width="0.7"/></svg><div class="t" style="left:11.3px;top:151.0px;font-size:6.8px;color:#34436a;font-weight:normal;letter-spacing:0.15px;-webkit-text-stroke:0.12px #34436a">Culinary Arts</div><div style="left:2.1px;top:158.84px;width:7px;height:6.9px;background:#fafafc;border:0.8px solid #bfc0c8;box-sizing:border-box"></div><svg style="position:absolute;left:2.1px;top:158.84px" width="7" height="7" viewBox="0 0 7 7"><path d="M1.6 3.7 L2.8 4.8 L5.4 1.7" fill="none" stroke="#45454d" stroke-width="0.7"/></svg><div class="t" style="left:11.3px;top:160.0px;font-size:6.8px;color:#34436a;font-weight:normal;letter-spacing:0.15px;-webkit-text-stroke:0.12px #34436a">Disability Resources</div><div style="left:2.1px;top:167.66px;width:7px;height:6.9px;background:#fafafc;border:0.8px solid #bfc0c8;box-sizing:border-box"></div><svg style="position:absolute;left:2.1px;top:167.66px" width="7" height="7" viewBox="0 0 7 7"><path d="M1.6 3.7 L2.8 4.8 L5.4 1.7" fill="none" stroke="#45454d" stroke-width="0.7"/></svg><div class="t" style="left:11.3px;top:169.0px;font-size:6.8px;color:#34436a;font-weight:normal;letter-spacing:0.15px;-webkit-text-stroke:0.12px #34436a">Earth &amp; Space Sciences</div><div style="left:2.1px;top:176.48000000000002px;width:7px;height:6.9px;background:#fafafc;border:0.8px solid #bfc0c8;box-sizing:border-box"></div><svg style="position:absolute;left:2.1px;top:176.48000000000002px" width="7" height="7" viewBox="0 0 7 7"><path d="M1.6 3.7 L2.8 4.8 L5.4 1.7" fill="none" stroke="#45454d" stroke-width="0.7"/></svg><div class="t" style="left:11.3px;top:177.0px;font-size:6.8px;color:#34436a;font-weight:normal;letter-spacing:0.15px;-webkit-text-stroke:0.12px #34436a">Economic Development</div><div style="left:2.1px;top:185.3px;width:7px;height:6.9px;background:#fafafc;border:0.8px solid #bfc0c8;box-sizing:border-box"></div><svg style="position:absolute;left:2.1px;top:185.3px" width="7" height="7" viewBox="0 0 7 7"><path d="M1.6 3.7 L2.8 4.8 L5.4 1.7" fill="none" stroke="#45454d" stroke-width="0.7"/></svg><div class="t" style="left:11.3px;top:186.0px;font-size:6.8px;color:#34436a;font-weight:normal;letter-spacing:0.15px;-webkit-text-stroke:0.12px #34436a">Engineering and Applied...</div><div style="left:2.1px;top:194.12px;width:7px;height:6.9px;background:#fafafc;border:0.8px solid #bfc0c8;box-sizing:border-box"></div><svg style="position:absolute;left:2.1px;top:194.12px" width="7" height="7" viewBox="0 0 7 7"><path d="M1.6 3.7 L2.8 4.8 L5.4 1.7" fill="none" stroke="#45454d" stroke-width="0.7"/></svg><div class="t" style="left:11.3px;top:195.0px;font-size:6.8px;color:#34436a;font-weight:normal;letter-spacing:0.15px;-webkit-text-stroke:0.12px #34436a">English</div><div style="left:2.1px;top:202.94000000000003px;width:7px;height:6.9px;background:#fafafc;border:0.8px solid #bfc0c8;box-sizing:border-box"></div><svg style="position:absolute;left:2.1px;top:202.94000000000003px" width="7" height="7" viewBox="0 0 7 7"><path d="M1.6 3.7 L2.8 4.8 L5.4 1.7" fill="none" stroke="#45454d" stroke-width="0.7"/></svg><div class="t" style="left:11.3px;top:204.0px;font-size:6.8px;color:#34436a;font-weight:normal;letter-spacing:0.15px;-webkit-text-stroke:0.12px #34436a">English as a Second Lang...</div><div style="left:2.1px;top:211.76000000000002px;width:7px;height:6.9px;background:#fafafc;border:0.8px solid #bfc0c8;box-sizing:border-box"></div><svg style="position:absolute;left:2.1px;top:211.76000000000002px" width="7" height="7" viewBox="0 0 7 7"><path d="M1.6 3.7 L2.8 4.8 L5.4 1.7" fill="none" stroke="#45454d" stroke-width="0.7"/></svg><div class="t" style="left:11.3px;top:213.0px;font-size:6.8px;color:#34436a;font-weight:normal;letter-spacing:0.15px;-webkit-text-stroke:0.12px #34436a">Health Sciences</div><div style="left:2.1px;top:220.58px;width:7px;height:6.9px;background:#fafafc;border:0.8px solid #bfc0c8;box-sizing:border-box"></div><svg style="position:absolute;left:2.1px;top:220.58px" width="7" height="7" viewBox="0 0 7 7"><path d="M1.6 3.7 L2.8 4.8 L5.4 1.7" fill="none" stroke="#45454d" stroke-width="0.7"/></svg><div class="t" style="left:11.3px;top:222.0px;font-size:6.8px;color:#34436a;font-weight:normal;letter-spacing:0.15px;-webkit-text-stroke:0.12px #34436a">Industrial &amp; Trade Tech...</div><div style="left:2.1px;top:229.4px;width:7px;height:6.9px;background:#fafafc;border:0.8px solid #bfc0c8;box-sizing:border-box"></div><svg style="position:absolute;left:2.1px;top:229.4px" width="7" height="7" viewBox="0 0 7 7"><path d="M1.6 3.7 L2.8 4.8 L5.4 1.7" fill="none" stroke="#45454d" stroke-width="0.7"/></svg><div class="t" style="left:11.3px;top:230.0px;font-size:6.8px;color:#34436a;font-weight:normal;letter-spacing:0.15px;-webkit-text-stroke:0.12px #34436a">Kinesiology, Athletics, &amp;...</div><div style="left:2.1px;top:238.22px;width:7px;height:6.9px;background:#fafafc;border:0.8px solid #bfc0c8;box-sizing:border-box"></div><svg style="position:absolute;left:2.1px;top:238.22px" width="7" height="7" viewBox="0 0 7 7"><path d="M1.6 3.7 L2.8 4.8 L5.4 1.7" fill="none" stroke="#45454d" stroke-width="0.7"/></svg><div class="t" style="left:11.3px;top:239.0px;font-size:6.8px;color:#34436a;font-weight:normal;letter-spacing:0.15px;-webkit-text-stroke:0.12px #34436a">Learning Resources</div><div style="left:2.1px;top:247.04000000000002px;width:7px;height:6.9px;background:#fafafc;border:0.8px solid #bfc0c8;box-sizing:border-box"></div><svg style="position:absolute;left:2.1px;top:247.04000000000002px" width="7" height="7" viewBox="0 0 7 7"><path d="M1.6 3.7 L2.8 4.8 L5.4 1.7" fill="none" stroke="#45454d" stroke-width="0.7"/></svg><div class="t" style="left:11.3px;top:248.0px;font-size:6.8px;color:#34436a;font-weight:normal;letter-spacing:0.15px;-webkit-text-stroke:0.12px #34436a">Mathematics</div></div>
</body></html>
